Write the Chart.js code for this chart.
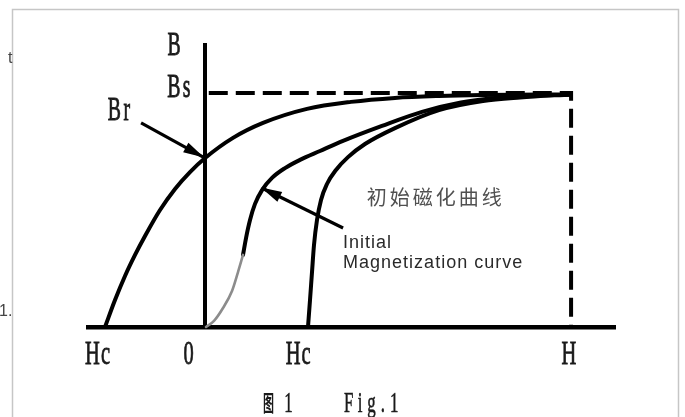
<!DOCTYPE html>
<html><head><meta charset="utf-8">
<script src="https://cdn.jsdelivr.net/npm/chart.js@4.4.0/dist/chart.umd.min.js"></script>
<style>html,body{margin:0;padding:0;background:#fff;overflow:hidden}canvas{display:block}</style>
</head><body>
<canvas id="c" width="685" height="417"></canvas>
<script>
// ---- data (H in arbitrary units, Bs = 1) ----
const demagCurve = [
  {x:-2.735,y:0},{x:-2.462,y:0.115},{x:-2.189,y:0.218},{x:-1.915,y:0.308},{x:-1.642,y:0.389},
  {x:-1.232,y:0.500},{x:-0.822,y:0.590},{x:-0.413,y:0.662},{x:0,y:0.722},{x:0.762,y:0.808},
  {x:1.582,y:0.872},{x:2.784,y:0.932},{x:3.986,y:0.962},{x:5.188,y:0.979},{x:6.390,y:0.987},
  {x:7.593,y:0.991},{x:10,y:0.994}
];
const initialCurveLow = [
  {x:0.025,y:0},{x:0.243,y:0.026},{x:0.489,y:0.081},{x:0.735,y:0.154},{x:0.899,y:0.235},{x:1.036,y:0.308}
];
const initialCurveHigh = [
  {x:1.036,y:0.308},{x:1.118,y:0.380},{x:1.227,y:0.457},{x:1.363,y:0.526},{x:1.555,y:0.585},
  {x:1.828,y:0.637},{x:2.183,y:0.679},{x:2.593,y:0.714},{x:3.139,y:0.752},{x:3.768,y:0.795},
  {x:4.833,y:0.859},{x:5.926,y:0.919},{x:6.992,y:0.959},{x:7.784,y:0.976},{x:8.604,y:0.985},
  {x:10,y:0.994}
];
const rightCurve = [
  {x:2.811,y:0},{x:2.866,y:0.115},{x:2.921,y:0.235},{x:2.975,y:0.350},{x:3.057,y:0.457},
  {x:3.167,y:0.543},{x:3.330,y:0.611},{x:3.576,y:0.671},{x:3.904,y:0.726},{x:4.369,y:0.782},
  {x:5.188,y:0.850},{x:6.391,y:0.927},{x:7.593,y:0.966},{x:8.604,y:0.981},{x:10,y:0.994}
];
const saturationBox = [{x:0.1,y:1},{x:10,y:1},{x:10,y:0}];
const brArrow = [{x:-1.75,y:0.872},{x:-0.05,y:0.726}];
const initArrow = [{x:3.77,y:0.423},{x:1.55,y:0.594}];

const xTickLabels = ['Hc','0','Hc','H'];
const xTickPositions = [-2.90,-0.45,2.58,9.94];
const xTickBaseline = -0.158;
const yTickLabels = ['B','Bs','Br'];
const yTickPositions = [{x:-0.85,y:1.162},{x:-0.68,y:0.983},{x:-2.31,y:0.885}];

const cnLabel = '初始磁化曲线';
const cnLabelPos = {x:4.42,y:0.521};
const enLabel = ['Initial','Magnetization curve'];
const enLabelPos = [{x:3.77,y:0.338},{x:3.77,y:0.252}];
const captionCN = '图1';
const captionEN = 'Fig.1';

// ---- drawing helpers ----
function condensed(ctx, text, cx, baseline, font, cell, sx, stroke){
  const n = text.length, x0 = cx - n*cell/2;
  ctx.font = font; ctx.textAlign = 'center'; ctx.textBaseline = 'alphabetic';
  for (let i=0;i<n;i++){
    ctx.save(); ctx.translate(x0 + cell*(i+0.5), baseline); ctx.scale(sx,1);
    ctx.fillText(text[i],0,0);
    if (stroke){ ctx.lineWidth = stroke; ctx.strokeStyle = ctx.fillStyle; ctx.strokeText(text[i],0,0); }
    ctx.restore();
  }
}

const annot = {
  id:'annot',
  beforeDraw(chart){
    const ctx = chart.ctx;
    ctx.save();
    ctx.fillStyle='#fff'; ctx.fillRect(0,0,chart.width,chart.height);
    ctx.strokeStyle='#c6c6c6'; ctx.lineWidth=1.5;
    ctx.beginPath(); ctx.moveTo(12.5,417); ctx.lineTo(12.5,9.5); ctx.lineTo(678.5,9.5); ctx.lineTo(678.5,417); ctx.stroke();
    ctx.fillStyle='#444'; ctx.font='16px "Liberation Sans"'; ctx.textAlign='left';
    ctx.fillText('t',8,63); ctx.fillText('1.',-1,316);
    ctx.restore();
  },
  afterDatasetsDraw(chart){
    const {ctx, scales:{x, y}} = chart;
    const px = v => x.getPixelForValue(v), py = v => y.getPixelForValue(v);
    ctx.save();
    // arrowheads
    [brArrow, initArrow].forEach(a=>{
      const x1=px(a[0].x), y1=py(a[0].y), x2=px(a[1].x), y2=py(a[1].y);
      const ang=Math.atan2(y2-y1,x2-x1);
      ctx.save(); ctx.translate(x2,y2); ctx.rotate(ang);
      ctx.beginPath(); ctx.moveTo(1,0); ctx.lineTo(-20,-5.5); ctx.lineTo(-20,5.5); ctx.closePath();
      ctx.fillStyle='#000'; ctx.fill(); ctx.restore();
    });
    // axis labels (condensed serif)
    ctx.fillStyle='#1a1a1a';
    const serif = '33px "Liberation Serif"';
    xTickLabels.forEach((t,i)=>condensed(ctx,t,px(xTickPositions[i]),py(xTickBaseline),serif,13,0.62,0.8));
    yTickLabels.forEach((t,i)=>condensed(ctx,t,px(yTickPositions[i].x),py(yTickPositions[i].y),serif,12.6,0.6,0.8));
    // Chinese label
    ctx.fillStyle='#505050'; ctx.font='20px "Noto Sans CJK SC"'; ctx.textAlign='left'; ctx.textBaseline='alphabetic';
    let cx = px(cnLabelPos.x);
    for (const ch of cnLabel){ ctx.fillText(ch,cx,py(cnLabelPos.y)); cx += 23; }
    // English label
    ctx.fillStyle='#2a2a2a'; ctx.font='18px "Liberation Sans"';
    try{ ctx.letterSpacing='1px'; }catch(e){}
    enLabel.forEach((t,i)=>ctx.fillText(t,px(enLabelPos[i].x),py(enLabelPos[i].y)));
    try{ ctx.letterSpacing='0px'; }catch(e){}
    // caption
    ctx.fillStyle='#1a1a1a';
    ctx.save(); ctx.translate(268.5,411); ctx.scale(0.5,1); ctx.font='bold 22px "Noto Sans CJK SC"'; ctx.textAlign='center'; ctx.fillText(captionCN[0],0,0); ctx.restore();
    condensed(ctx,captionCN.slice(1),288.5,412,'29px "Liberation Serif"',11.4,0.58,0.6);
    condensed(ctx,captionEN,371.5,412,'29px "Liberation Serif"',11.4,0.58,0.6);
    ctx.restore();
  }
};

const line = (data, color, width, extra) => Object.assign({
  data, showLine:true, borderColor:color, borderWidth:width, pointRadius:0,
  fill:false, clip:false, cubicInterpolationMode:'monotone', borderCapStyle:'round'
}, extra||{});

new Chart(document.getElementById('c'), {
  type:'scatter',
  data:{ datasets:[
    line(demagCurve,'#000',4),
    line(initialCurveLow,'#8c8c8c',2.6),
    line(initialCurveHigh,'#000',4),
    line(rightCurve,'#000',4),
    line(saturationBox,'#000',4,{borderDash:[19,8],cubicInterpolationMode:'default',tension:0,borderCapStyle:'butt',borderJoinStyle:'miter'}),
    line(brArrow,'#000',3.2,{cubicInterpolationMode:'default',tension:0,borderCapStyle:'butt'}),
    line(initArrow,'#000',3.2,{cubicInterpolationMode:'default',tension:0,borderCapStyle:'butt'})
  ]},
  options:{
    responsive:false, animation:false, devicePixelRatio:1,
    layout:{padding:{left:88,right:70,top:45,bottom:90}},
    plugins:{legend:{display:false}, tooltip:{enabled:false}},
    scales:{
      x:{type:'linear', min:-3.2, max:11.2, position:{y:0},
         grid:{display:false}, ticks:{display:false}, border:{display:true,color:'#000',width:4.5}},
      y:{type:'linear', min:0, max:1.205, position:{x:0},
         grid:{display:false}, ticks:{display:false}, border:{display:true,color:'#000',width:4}}
    }
  },
  plugins:[annot]
});
</script>
</body></html>
